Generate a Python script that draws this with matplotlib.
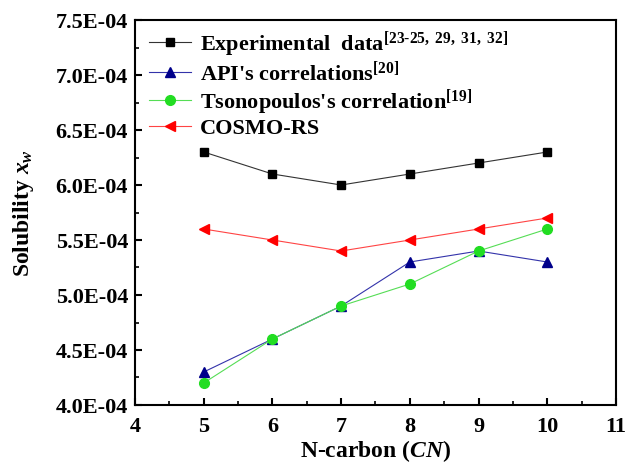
import matplotlib
matplotlib.use('Agg')
import matplotlib.pyplot as plt
from matplotlib.ticker import FuncFormatter, MultipleLocator

# Data
n_carbon = [5, 6, 7, 8, 9, 10]
experimental = [6.3e-4, 6.1e-4, 6.0e-4, 6.1e-4, 6.2e-4, 6.3e-4]
api_corr = [4.3e-4, 4.6e-4, 4.9e-4, 5.3e-4, 5.4e-4, 5.3e-4]
tsonopoulos = [4.2e-4, 4.6e-4, 4.9e-4, 5.1e-4, 5.4e-4, 5.6e-4]
cosmo_rs = [5.6e-4, 5.5e-4, 5.4e-4, 5.5e-4, 5.6e-4, 5.7e-4]

params = {
    'font.family': 'Liberation Serif',
    'font.weight': 'bold',
    'axes.labelweight': 'bold',
    'mathtext.fontset': 'custom',
    'mathtext.rm': 'Liberation Serif:bold',
    'mathtext.it': 'Liberation Serif:italic:bold',
    'mathtext.bf': 'Liberation Serif:bold',
    'axes.linewidth': 1.5,
    'xtick.direction': 'in',
    'ytick.direction': 'in',
}
plt.rcParams.update(params)

W, H = 628, 464
fig = plt.figure(figsize=(W / 100, H / 100), dpi=100)
ax = fig.add_axes([135 / W, 1 - 406 / H, 481 / W, 385 / H])

ax.plot(n_carbon, experimental, color='#333333', lw=0.8, marker='s', ms=6,
        mfc='black', mec='black',
        label='Experimental  data$^{[23\\text{-}25,\\ 29,\\ 31,\\ 32]}$')
ax.plot(n_carbon, api_corr, color='#3333aa', lw=0.8, marker='^', ms=7.5,
        mfc='#00008b', mec='#00008b', label="API's correlations$^{[20]}$")
ax.plot(n_carbon, tsonopoulos, color='#55dd55', lw=0.8, marker='o', ms=7,
        mfc='#22dd22', mec='#22dd22', label="Tsonopoulos's correlation$^{[19]}$")
ax.plot(n_carbon, cosmo_rs, color='#ff4444', lw=0.8, marker='<', ms=7.5,
        mfc='red', mec='red', label='COSMO-RS')

ax.set_xlim(4, 11)
ax.set_ylim(4.0e-4, 7.5e-4)
ax.xaxis.set_major_locator(MultipleLocator(1))
ax.xaxis.set_minor_locator(MultipleLocator(0.5))
ax.yaxis.set_major_locator(MultipleLocator(0.5e-4))
ax.yaxis.set_minor_locator(MultipleLocator(0.25e-4))
ax.yaxis.set_major_formatter(FuncFormatter(lambda v, p: '%.1fE-04' % (v * 1e4)))
ax.tick_params(which='major', length=5, width=1.5, labelsize=16)
ax.tick_params(axis='x', which='major', pad=8)
ax.tick_params(axis='y', which='major', pad=5)
ax.tick_params(which='minor', length=3, width=1.2)

ax.set_xlabel('N-carbon ($CN$)', fontsize=17, fontweight='bold', labelpad=1)
ax.set_ylabel('Solubility $x_w$', fontsize=17, fontweight='bold', labelpad=14)

ax.legend(loc='upper left', frameon=False, prop={'size': 16, 'weight': 'bold'},
          handlelength=1.9, labelspacing=0.08, borderaxespad=0.0,
          handletextpad=0.4, bbox_to_anchor=(0.01, 1.0))

fig.canvas.draw()
for tk in ax.xaxis.get_major_ticks() + ax.yaxis.get_major_ticks():
    tk.label1.set_fontweight('bold')

fig.savefig('out.png', dpi=100)
